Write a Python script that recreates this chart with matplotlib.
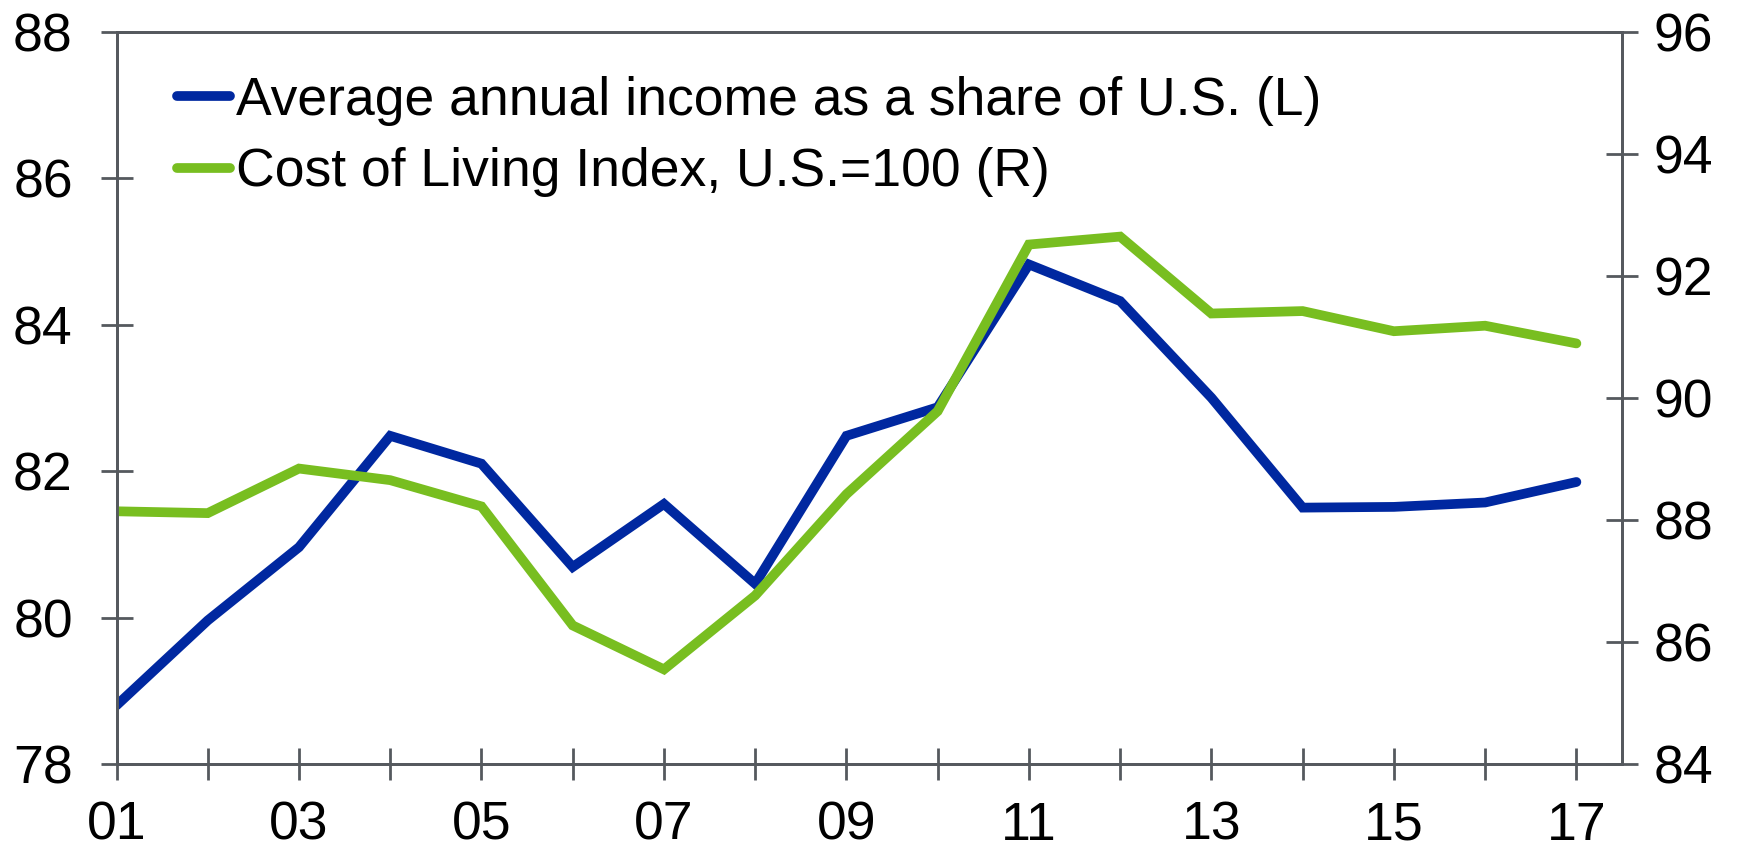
import matplotlib
matplotlib.use('Agg')
import matplotlib.pyplot as plt
from matplotlib.ticker import MultipleLocator, FuncFormatter

plt.rcParams['font.family'] = ['Liberation Sans', 'DejaVu Sans']

# ---- Data ----
years = list(range(1, 18))   # 2001 .. 2017
income_share = [78.80, 79.96, 80.96, 82.48, 82.10, 80.69, 81.55, 80.46, 82.48,
                82.87, 84.82, 84.32, 83.00, 81.50, 81.51, 81.57, 81.85]
cost_of_living = [88.14, 88.11, 88.84, 88.65, 88.22, 86.27, 85.55, 86.76, 88.42,
                  89.78, 92.51, 92.64, 91.38, 91.42, 91.09, 91.18, 90.89]

label_income = "Average annual income as a share of U.S. (L)"
label_col = "Cost of Living Index, U.S.=100 (R)"

BLUE = '#0028a0'
GREEN = '#78be20'
AXIS = '#55595e'
FS = 38.5

fig = plt.figure(figsize=(17.44, 8.5), dpi=100)
ax = fig.add_axes([116.5 / 1744, 1 - 764 / 850, (1622 - 116.5) / 1744, (764 - 31.5) / 850])
ax2 = ax.twinx()

l1, = ax.plot(years, income_share, color=BLUE, linewidth=7,
              solid_capstyle='round', solid_joinstyle='miter')
l2, = ax2.plot(years, cost_of_living, color=GREEN, linewidth=7,
               solid_capstyle='round', solid_joinstyle='miter')

ax.set_xlim(1, 17.5)
ax.set_ylim(78, 88)
ax2.set_ylim(84, 96)
ax.yaxis.set_major_locator(MultipleLocator(2))
ax2.yaxis.set_major_locator(MultipleLocator(2))
ax.xaxis.set_major_locator(MultipleLocator(1))
ax.xaxis.set_major_formatter(FuncFormatter(lambda v, p: f"{int(v):02d}" if int(v) % 2 == 1 else ""))

for a in (ax, ax2):
    for s in a.spines.values():
        s.set_color(AXIS)
        s.set_linewidth(2)
    a.tick_params(direction='inout', length=23, width=2, color=AXIS,
                  labelsize=FS, labelcolor='black')
ax.tick_params(axis='y', pad=20)
ax2.tick_params(axis='y', pad=11)
ax.tick_params(axis='x', pad=15)

leg = ax.legend([l1, l2], [label_income, label_col], loc='upper left',
                bbox_to_anchor=(177 / 1744, 1 - 76 / 850), bbox_transform=fig.transFigure,
                frameon=False, fontsize=FS, borderpad=0, borderaxespad=0,
                handlelength=1.0, handletextpad=0.1, labelspacing=0.4)
for h in leg.get_lines():
    h.set_solid_capstyle('round')

fig.savefig('out.png', dpi=100)
